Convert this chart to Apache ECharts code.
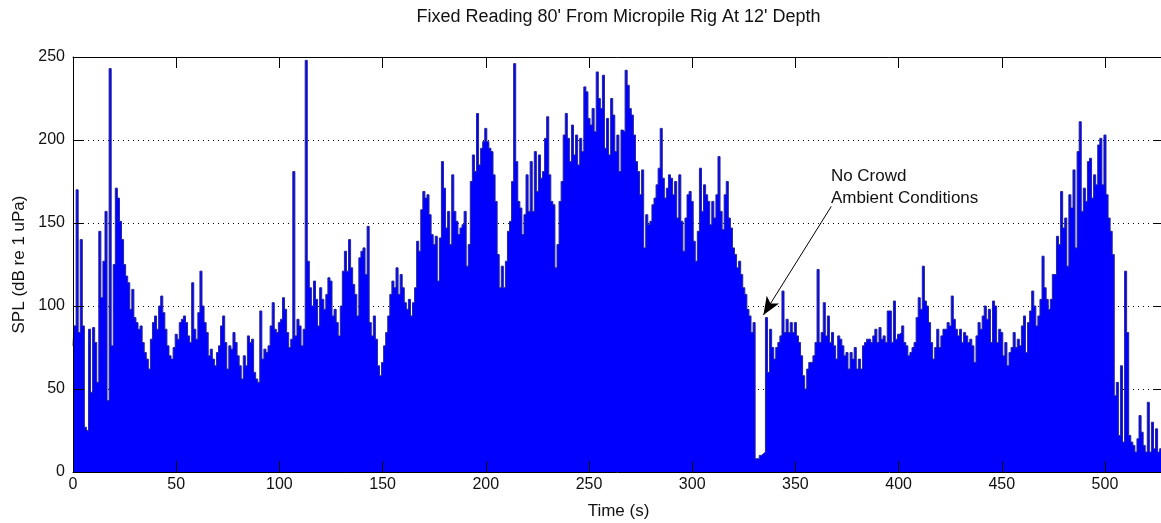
<!DOCTYPE html>
<html>
<head>
<meta charset="utf-8">
<title>Fixed Reading 80' From Micropile Rig</title>
<script src="https://cdn.jsdelivr.net/npm/echarts@6/dist/echarts.min.js"></script>
<style>
  html, body { margin: 0; padding: 0; background: #ffffff; }
  #chart { width: 1161px; height: 523px; }
</style>
</head>
<body>
<div id="chart"></div>
<script>
// ---- text ----
const TITLE = "Fixed Reading 80' From Micropile Rig At 12' Depth";
const X_NAME = 'Time (s)';
const Y_NAME = 'SPL (dB re 1 uPa)';
const NOTE_LINES = ['No Crowd', 'Ambient Conditions'];

// ---- axes ----
const X_MIN = 0;
const X_MAX = 528.6;
const X_INTERVAL = 50;
const Y_MIN = 0;
const Y_MAX = 250;
const Y_INTERVAL = 50;

// ---- annotation anchors, in [time (s), level] ----
const NOTE_TEXT_AT = [367.2, 185];
const NOTE_ARROW_FROM = [367.4, 160];
const NOTE_ARROW_TO = [334.5, 94.6];

// ---- samples: one level per second, starting at t = 0 ----
const SAMPLE_START = 0;
const SAMPLE_STEP = 1;
const spl = [
  76, 88, 170, 84, 140, 88, 27, 25, 86, 48,
  87, 78, 54, 145, 105, 127, 157, 43, 243, 76,
  125, 171, 165, 151, 140, 125, 118, 114, 98, 110,
  93, 90, 86, 88, 78, 72, 68, 62, 80, 90,
  94, 86, 100, 106, 96, 86, 76, 70, 68, 75,
  83, 80, 90, 92, 94, 90, 82, 78, 114, 86,
  80, 96, 121, 100, 90, 84, 70, 74, 68, 64,
  72, 76, 88, 94, 78, 62, 76, 74, 84, 78,
  70, 64, 56, 70, 64, 82, 78, 80, 60, 56,
  54, 97, 68, 74, 72, 76, 88, 102, 86, 84,
  90, 92, 105, 98, 84, 75, 80, 181, 82, 92,
  88, 76, 86, 248, 127, 111, 100, 115, 104, 88,
  111, 104, 98, 107, 117, 115, 94, 98, 90, 82,
  100, 121, 133, 121, 140, 123, 113, 107, 94, 129,
  133, 135, 119, 148, 90, 82, 94, 80, 64, 58,
  66, 76, 84, 94, 107, 115, 111, 123, 107, 119,
  111, 102, 98, 104, 94, 102, 111, 139, 133, 158,
  169, 165, 167, 155, 143, 137, 142, 115, 141, 187,
  171, 147, 157, 137, 179, 157, 151, 143, 147, 149,
  157, 124, 137, 175, 191, 181, 216, 185, 195, 199,
  207, 199, 195, 193, 179, 163, 131, 111, 124, 111,
  127, 145, 151, 175, 246, 187, 163, 159, 143, 155,
  179, 157, 187, 157, 193, 169, 191, 177, 181, 201,
  214, 179, 163, 161, 123, 137, 163, 175, 203, 216,
  201, 187, 209, 191, 203, 185, 201, 193, 232, 229,
  213, 209, 219, 205, 241, 225, 219, 239, 195, 213,
  191, 225, 215, 193, 203, 181, 206, 205, 242, 233,
  219, 215, 203, 187, 181, 167, 182, 135, 155, 149,
  151, 161, 165, 173, 183, 207, 177, 165, 171, 179,
  177, 167, 175, 153, 179, 151, 133, 153, 167, 169,
  163, 139, 127, 145, 183, 157, 173, 167, 163, 149,
  163, 153, 167, 190, 157, 146, 167, 175, 153, 147,
  135, 131, 123, 127, 119, 111, 107, 98, 94, 84,
  90, 8, 8, 10, 11, 12, 93, 60, 86, 75,
  68, 75, 78, 82, 109, 84, 92, 84, 90, 84,
  90, 82, 78, 70, 58, 50, 62, 66, 66, 70,
  78, 122, 78, 84, 102, 82, 94, 78, 84, 76,
  68, 82, 80, 76, 70, 72, 62, 72, 68, 75,
  62, 68, 62, 76, 78, 80, 80, 78, 82, 86,
  78, 87, 80, 82, 78, 97, 97, 78, 103, 80,
  83, 84, 88, 78, 76, 70, 72, 75, 78, 93,
  105, 98, 124, 103, 100, 90, 78, 68, 75, 86,
  75, 82, 86, 86, 90, 88, 106, 92, 86, 82,
  86, 78, 84, 82, 78, 80, 76, 66, 82, 90,
  86, 94, 100, 92, 98, 78, 103, 100, 78, 86,
  84, 70, 78, 64, 72, 75, 84, 75, 80, 76,
  88, 94, 72, 90, 97, 109, 100, 88, 94, 104,
  130, 111, 104, 98, 104, 119, 119, 142, 137, 169,
  147, 153, 124, 167, 159, 182, 135, 193, 211, 157,
  171, 163, 187, 189, 165, 179, 173, 197, 201, 173,
  203, 167, 153, 145, 131, 46, 54, 22, 64, 18,
  121, 84, 22, 18, 16, 12, 20, 34, 24, 16,
  12, 42, 12, 30, 14, 26, 12, 14, 14
];

const FONT = "'Liberation Sans', Arial, Helvetica, sans-serif";
const INK = '#111111';

const chart = echarts.init(document.getElementById('chart'), null, { renderer: 'canvas' });

const seriesData = spl.map((v, i) => [SAMPLE_START + i * SAMPLE_STEP, v]);

const frameLine = { show: true, onZero: false, lineStyle: { color: '#000000', width: 1 } };
const frameTick = { show: true, inside: true, length: 11, lineStyle: { color: '#000000', width: 1 } };
const tickText = { fontFamily: FONT, fontSize: 16, color: INK };

chart.setOption({
  animation: false,
  backgroundColor: '#ffffff',
  // the right edge of the axes box runs just past the canvas edge
  grid: { left: 73, top: 57, width: 1091, height: 415, containLabel: false, outerBoundsMode: 'none' },
  xAxis: [
    {
      type: 'value', position: 'bottom', z: 3,
      min: X_MIN, max: X_MAX, interval: X_INTERVAL,
      axisLine: frameLine, axisTick: frameTick,
      axisLabel: Object.assign({
        margin: 5,
        formatter: v => (v % X_INTERVAL === 0 ? String(v) : '')
      }, tickText),
      splitLine: { show: false },
      name: X_NAME, nameLocation: 'middle', nameGap: 31,
      nameTextStyle: { fontFamily: FONT, fontSize: 17, color: INK }
    },
    {
      type: 'value', position: 'top', z: 3,
      min: X_MIN, max: X_MAX, interval: X_INTERVAL,
      axisLine: frameLine, axisTick: frameTick,
      axisLabel: { show: false }, splitLine: { show: false }
    }
  ],
  yAxis: [
    {
      type: 'value', position: 'left', z: 3,
      min: Y_MIN, max: Y_MAX, interval: Y_INTERVAL,
      axisLine: frameLine, axisTick: frameTick,
      axisLabel: Object.assign({ margin: 8 }, tickText),
      splitLine: { show: false },
      name: Y_NAME, nameLocation: 'middle', nameGap: 44,
      nameTextStyle: { fontFamily: FONT, fontSize: 17, color: INK }
    },
    {
      type: 'value', position: 'right', z: 3,
      min: Y_MIN, max: Y_MAX, interval: Y_INTERVAL,
      axisLine: frameLine, axisTick: frameTick,
      axisLabel: { show: false }, splitLine: { show: false }
    },
    {
      // dotted horizontal grid, kept beneath the data
      type: 'value', position: 'left', z: 0,
      min: Y_MIN, max: Y_MAX, interval: Y_INTERVAL,
      axisLine: { show: false }, axisTick: { show: false }, axisLabel: { show: false },
      splitLine: { show: true, lineStyle: { color: '#000000', width: 1, type: [1, 4] } }
    }
  ],
  series: [
    {
      type: 'line',
      xAxisIndex: 0, yAxisIndex: 0,
      step: 'middle',
      symbol: 'none',
      data: seriesData,
      lineStyle: { color: '#25259c', width: 1 },
      areaStyle: { color: '#0000ff', opacity: 1 },
      z: 2,
      markLine: {
        silent: true,
        animation: false,
        symbol: ['none', 'arrow'],
        symbolSize: [11, 18],
        lineStyle: { color: '#000000', width: 1, type: 'solid' },
        label: { show: false },
        emphasis: { disabled: true },
        data: [[{ coord: NOTE_ARROW_FROM }, { coord: NOTE_ARROW_TO }]]
      }
    }
  ]
});

// title centred over the plot, note text placed from data coordinates
const plotCentre = chart.convertToPixel({ xAxisIndex: 0, yAxisIndex: 0 }, [(X_MIN + X_MAX) / 2, Y_MAX]);
const notePos = chart.convertToPixel({ xAxisIndex: 0, yAxisIndex: 0 }, NOTE_TEXT_AT);

chart.setOption({
  graphic: [
    {
      type: 'text', z: 10,
      style: {
        x: plotCentre[0], y: 17,
        text: TITLE,
        font: '18px ' + FONT,
        fill: INK,
        textAlign: 'center', textVerticalAlign: 'middle'
      }
    },
    {
      type: 'text', z: 10,
      style: {
        x: notePos[0], y: notePos[1],
        text: NOTE_LINES.join('\n'),
        font: '17px ' + FONT,
        lineHeight: 22,
        fill: INK,
        textAlign: 'left', textVerticalAlign: 'top'
      }
    }
  ]
});
</script>
</body>
</html>
